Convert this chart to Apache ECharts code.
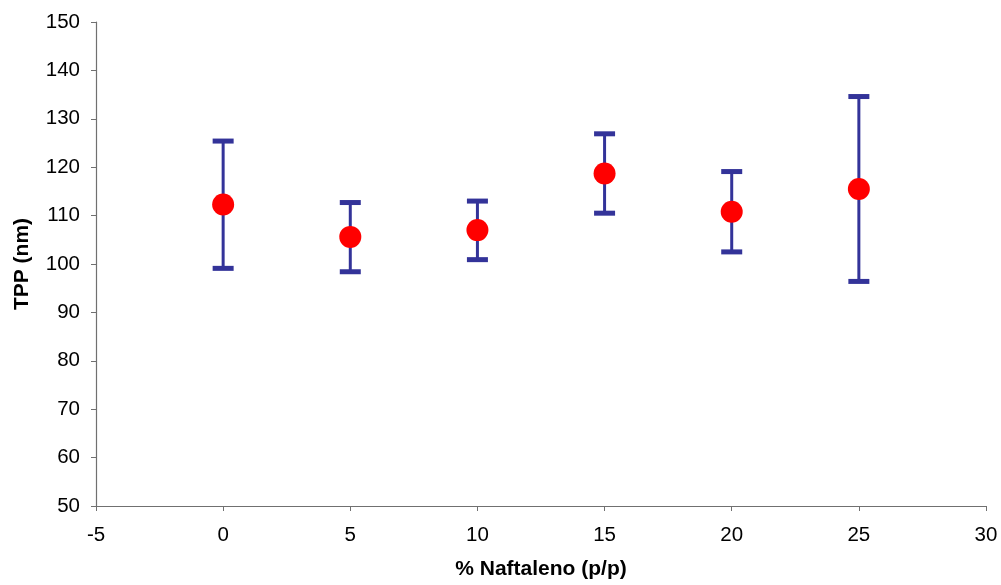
<!DOCTYPE html>
<html><head><meta charset="utf-8">
<script src="https://cdn.jsdelivr.net/npm/echarts@6/dist/echarts.min.js"></script>
<style>html,body{margin:0;padding:0;background:#fff}#c{width:1001px;height:585px}</style>
</head><body><div id="c"></div>
<script>
var xValues = [0, 5, 10, 15, 20, 25];
var meanValues = [112.3, 105.6, 107.0, 118.7, 110.8, 115.5];
var upperValues = [125.4, 112.7, 113.0, 126.9, 119.1, 134.6];
var lowerValues = [99.1, 98.4, 100.9, 110.5, 102.5, 96.4];
var xAxisTitle = '% Naftaleno (p/p)';
var yAxisTitle = 'TPP (nm)';

var meanData = xValues.map(function(x,i){return [x, meanValues[i]];});
var errData = xValues.map(function(x,i){return [x, lowerValues[i], upperValues[i]];});

var chart = echarts.init(document.getElementById('c'));
var font = 'Liberation Sans, Arial, sans-serif';
chart.setOption({
  animation:false,
  backgroundColor:'#fff',
  grid:{left:96,right:15,top:22,bottom:79},
  xAxis:{type:'value',min:-5,max:30,interval:5,
    name:xAxisTitle,nameLocation:'middle',nameGap:53,
    nameTextStyle:{fontFamily:font,fontSize:21,fontWeight:'bold',color:'#000'},
    axisLine:{lineStyle:{color:'#707070',width:1.2}},
    axisTick:{show:true,inside:false,length:5,lineStyle:{color:'#707070'}},
    axisLabel:{fontFamily:font,fontSize:20.5,color:'#000',margin:19},
    splitLine:{show:false}},
  yAxis:{type:'value',min:50,max:150,interval:10,
    name:yAxisTitle,nameLocation:'middle',nameGap:63,nameRotate:90,
    nameTextStyle:{fontFamily:font,fontSize:21,fontWeight:'bold',color:'#000'},
    axisLine:{show:true,onZero:false,lineStyle:{color:'#707070',width:1.2}},
    axisTick:{show:true,inside:false,length:5,lineStyle:{color:'#707070'}},
    axisLabel:{fontFamily:font,fontSize:20.5,color:'#000',margin:16},
    splitLine:{show:false}},
  series:[
    {type:'custom',data:errData,z:2,
     renderItem:function(params,api){
       var x=api.value(0);
       var lo=api.coord([x,api.value(1)]);
       var hi=api.coord([x,api.value(2)]);
       var hw=10.5, t=5;
       var c='#333399';
       return {type:'group',children:[
         {type:'line',shape:{x1:lo[0],y1:lo[1],x2:hi[0],y2:hi[1]},style:{stroke:c,lineWidth:3}},
         {type:'rect',shape:{x:hi[0]-hw,y:hi[1]-t/2,width:hw*2,height:t},style:{fill:c}},
         {type:'rect',shape:{x:lo[0]-hw,y:lo[1]-t/2,width:hw*2,height:t},style:{fill:c}}
       ]};
     }},
    {type:'scatter',data:meanData,symbol:'circle',symbolSize:22,z:3,
     itemStyle:{color:'#ff0000',opacity:1}}
  ]
});
</script></body></html>
